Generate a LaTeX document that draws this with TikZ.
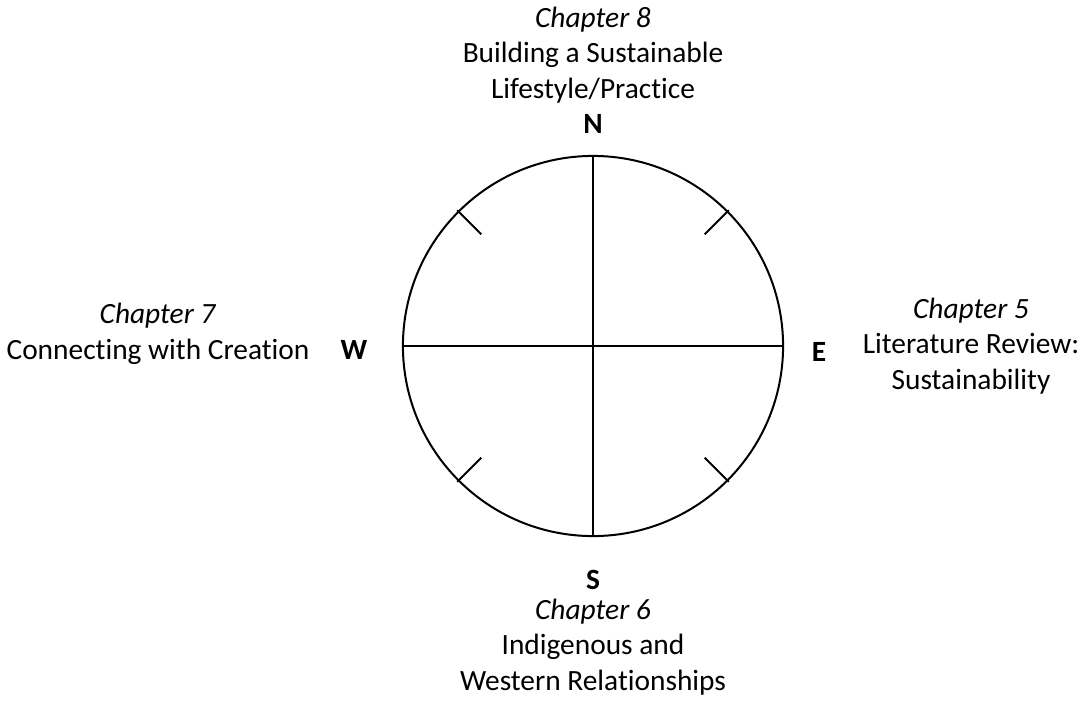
\documentclass[tikz,border=0pt]{standalone}
\usepackage{fontspec}
\setmainfont[Ligatures=NoCommon]{Carlito}
\usepackage{tikz}
\usetikzlibrary{calc,
                positioning,
                shapes.geometric}

\begin{document}
\begin{tikzpicture}[
			x=0.01316cm, y=-0.01316cm,
			line width=0.75pt,
			compass/.style = {circle, draw, minimum size=5cm, inner sep=0pt, outer sep=0pt},
			dir/.style = {font=\fontsize{11}{13.4}\selectfont\bfseries, inner sep=0pt},
			chap/.style = {align=center, font=\fontsize{11}{13.4}\selectfont, inner sep=0pt},
			]
			\useasboundingbox (0,0) rectangle (1086,704);
			\node[compass] (C) at (593,346) {};
			% cross
			\draw (C.north) -- (C.south);
			\draw (C.west) -- (C.east);
			% ticks
			\foreach \a in {45,135,225,315}
			  \draw ($(C.center)+(\a:192)$) -- ($(C.center)+(\a:158)$);
			% directions
			\node[dir] (N) at (593,124) {N};
			\node[dir] (S) at (593,580) {S};
			\node[dir] (W) at (354,350) {W};
			\node[dir] (E) at (819,352) {E};
			% chapters
			\node[chap] (ch8) at (593,55) {\textit{Chapter 8}\\Building a Sustainable\\Lifestyle/Practice};
			\node[chap] (ch6) at (593,647) {\textit{Chapter 6}\\Indigenous and\\Western Relationships};
			\node[chap] (ch7) at (158,334) {\textit{Chapter 7}\\Connecting with Creation};
			\node[chap] (ch5) at (971,346) {\textit{Chapter 5}\\Literature Review:\\Sustainability};
		\end{tikzpicture}
\end{document}
